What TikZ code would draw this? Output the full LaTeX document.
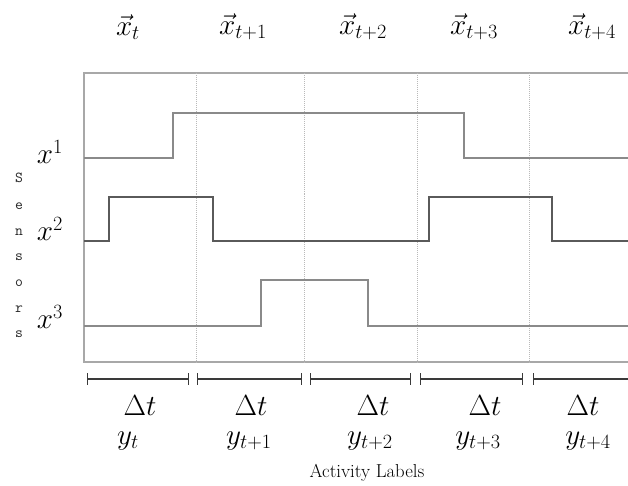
\documentclass[tikz,border=0pt]{standalone}
\usepackage{amsmath, amssymb}
\usepackage{tikz}
\usetikzlibrary{arrows.meta, positioning}
\definecolor{sigline}{HTML}{8A8A8A}
\definecolor{sigdark}{HTML}{5A5A5A}
\definecolor{gridgray}{HTML}{A8A8A8}
\definecolor{barline}{HTML}{3A3A3A}

\begin{document}
\begin{tikzpicture}[x=0.03cm, y=-0.03cm,
  frame/.style={draw=gridgray, line width=1.1pt},
  slot/.style={draw=gridgray!80, densely dotted, line width=0.7pt},
  signal/.style={draw=sigline, line width=1.2pt},
  signaldark/.style={draw=sigdark, line width=1.3pt},
  interval/.style={draw=barline, line width=1pt},
  vlabel/.style={font=\fontsize{23}{26}\selectfont, inner sep=0pt},
  slabel/.style={font=\fontsize{23}{26}\selectfont, inner sep=0pt},
  letter/.style={font=\ttfamily\fontsize{13}{15}\selectfont, inner sep=0pt,
                 text=black!85}
]
  \useasboundingbox (0,0) rectangle (628,486);

  % feature vectors
  \node[vlabel] (xt)  at (128,27) {$\vec{x}_t$};
  \node[vlabel] (xt1) at (243,27) {$\vec{x}_{t+1}$};
  \node[vlabel] (xt2) at (363,27) {$\vec{x}_{t+2}$};
  \node[vlabel] (xt3) at (474,27) {$\vec{x}_{t+3}$};
  \node[vlabel] (xt4) at (592,27) {$\vec{x}_{t+4}$};

  % frame and time slots
  \draw[frame] (628,73) -- (84,73) -- (84,362) -- (628,362);
  \draw[slot] (196,73) -- (196,362);
  \draw[slot] (304,73) -- (304,362);
  \draw[slot] (417,73) -- (417,362);
  \draw[slot] (529,73) -- (529,362);

  % sensor signals
  \draw[signal] (84,158) -- (173,158) -- (173,113) -- (464,113)
    -- (464,158) -- (628,158);
  \draw[signaldark] (84,241) -- (109,241) -- (109,197) -- (213,197)
    -- (213,241) -- (429,241) -- (429,197) -- (552,197)
    -- (552,241) -- (628,241);
  \draw[signal] (84,326) -- (261,326) -- (261,280) -- (368,280)
    -- (368,326) -- (628,326);

  \node[slabel] (x1) at (50,152) {$x^1$};
  \node[slabel] (x2) at (50,229) {$x^2$};
  \node[slabel] (x3) at (50,317) {$x^3$};

  % vertical caption
  \node[letter] (s1) at (19,178) {S};
  \node[letter] (s2) at (19,206) {e};
  \node[letter] (s3) at (19,232) {n};
  \node[letter] (s4) at (19,257) {s};
  \node[letter] (s5) at (19,283) {o};
  \node[letter] (s6) at (19,309) {r};
  \node[letter] (s7) at (19,334) {s};

  % intervals
  \draw[interval, {Bar[width=10pt]}-{Bar[width=10pt]}] (87,379) -- (189,379);
  \draw[interval, {Bar[width=10pt]}-{Bar[width=10pt]}] (197,379) -- (302,379);
  \draw[interval, {Bar[width=10pt]}-{Bar[width=10pt]}] (310,379) -- (411,379);
  \draw[interval, {Bar[width=10pt]}-{Bar[width=10pt]}] (420,379) -- (523,379);
  \draw[interval, {Bar[width=10pt]}-] (533,379) -- (628,379);

  \node[slabel] (d0) at (140,406) {$\Delta t$};
  \node[slabel] (d1) at (251,406) {$\Delta t$};
  \node[slabel] (d2) at (373,406) {$\Delta t$};
  \node[slabel] (d3) at (485,406) {$\Delta t$};
  \node[slabel] (d4) at (583,406) {$\Delta t$};

  \node[slabel] (y0) at (128,441) {$y_t$};
  \node[slabel] (y1) at (249,441) {$y_{t+1}$};
  \node[slabel] (y2) at (370,441) {$y_{t+2}$};
  \node[slabel] (y3) at (478,441) {$y_{t+3}$};
  \node[slabel] (y4) at (588,441) {$y_{t+4}$};

  \node[font=\fontsize{16}{19}\selectfont, inner sep=0pt] (act) at (367,473) {Activity Labels};
\end{tikzpicture}
\end{document}
